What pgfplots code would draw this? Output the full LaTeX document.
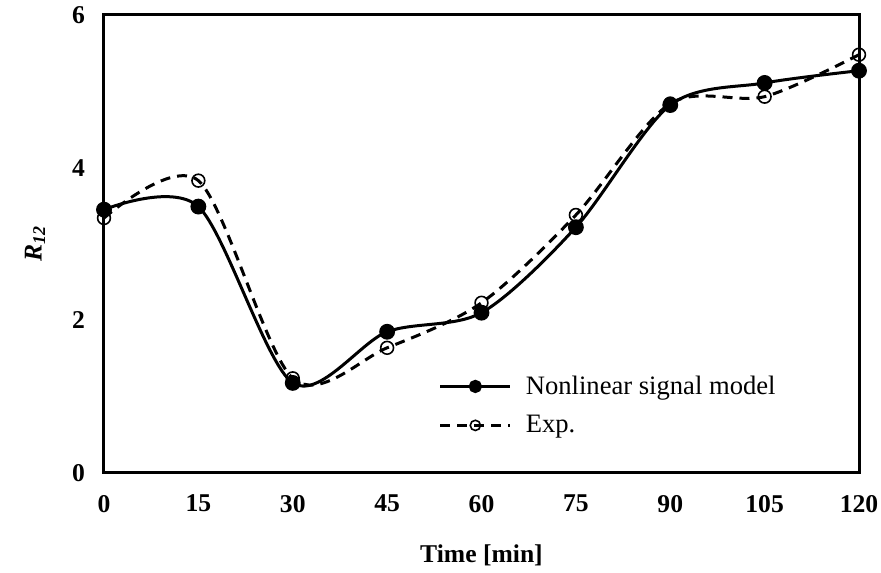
\documentclass[border=0pt]{standalone}
\usepackage{fontspec}
\setmainfont{Liberation Serif}
\usepackage{pgfplots}
\pgfplotsset{compat=1.18}
\begin{document}
\begin{tikzpicture}
\begin{axis}[
  scale only axis,
  width=377.5pt, height=229pt,
  xmin=0, xmax=120, ymin=0, ymax=6,
  xtick={0,15,...,120}, ytick={0,2,4,6},
  major tick length=0pt,
  axis line style={line width=1.5pt},
  /pgf/number format/assume math mode=true,
  ticklabel style={font=\fontsize{12.8}{15}\selectfont\bfseries},
  xticklabel style={yshift=-7.5pt},
  yticklabel style={xshift=-6pt},
  xlabel={Time [min]},
  ylabel={R\textsubscript{12}},
  xlabel style={font=\fontsize{12.8}{15}\selectfont\bfseries, at={(axis description cs:0.5,-0.179)}, anchor=center},
  ylabel style={font=\fontsize{12.8}{15}\selectfont\bfseries\itshape, at={(axis description cs:-0.0914,0.5)}, anchor=center},
  legend style={draw=none, fill=none, font=\fontsize{13.3}{16}\selectfont, at={(axis description cs:0.443,0.222)}, anchor=north west, row sep=5pt, column sep=5pt, inner sep=0pt},
  legend cell align=left,
  reverse legend,
  legend image code/.code={\draw[mark repeat=2,mark phase=2,#1,every mark/.append style={scale=0.8}] plot coordinates {(0pt,0pt) (17.5pt,0pt) (35pt,0pt)};},
]
\coordinate (bl) at (rel axis cs:0,0);
\coordinate (tr) at (rel axis cs:1,1);
\addplot[black, line width=1.5pt, smooth, dash pattern=on 5pt off 3.5pt, mark=o, mark size=3.2pt, mark options={solid, line width=0.8pt}]
  coordinates {(0,3.34)(15,3.83)(30,1.24)(45,1.64)(60,2.23)(75,3.38)(90,4.84)(105,4.93)(120,5.48)};
\addlegendentry{Exp.}
\addplot[black, line width=1.5pt, smooth, mark=*, mark size=3.2pt, mark options={solid}]
  coordinates {(0,3.45)(15,3.49)(30,1.18)(45,1.85)(60,2.10)(75,3.22)(90,4.82)(105,5.11)(120,5.27)};
\addlegendentry{Nonlinear signal model}
\end{axis}
\pgfresetboundingbox
\path ([shift={(-52pt,-50pt)}]bl) rectangle ([shift={(11pt,7.5pt)}]tr);
\end{tikzpicture}
\end{document}
